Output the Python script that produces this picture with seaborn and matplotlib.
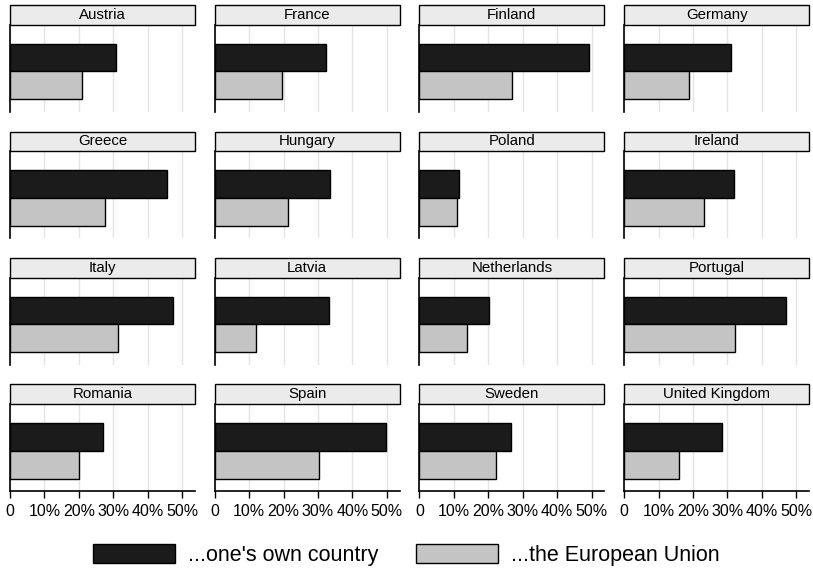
import pandas as pd
import matplotlib.pyplot as plt
import matplotlib.patches as mpatches
import seaborn as sns

# Data (percent)
countries = ['Austria', 'France', 'Finland', 'Germany',
             'Greece', 'Hungary', 'Poland', 'Ireland',
             'Italy', 'Latvia', 'Netherlands', 'Portugal',
             'Romania', 'Spain', 'Sweden', 'United Kingdom']
own_country = [30.8, 32.3, 49.4, 31.1,
               45.6, 33.4, 11.6, 32.0,
               47.4, 33.1, 20.3, 47.1,
               27.0, 49.7, 26.7, 28.3]
european_union = [20.9, 19.5, 27.0, 18.9,
                  27.6, 21.2, 10.8, 23.3,
                  31.4, 11.9, 13.7, 32.3,
                  20.0, 30.2, 22.1, 16.0]
targets = ["...one's own country", "...the European Union"]
tick_values = [0, 10, 20, 30, 40, 50]
tick_labels = ['0', '10%', '20%', '30%', '40%', '50%']

rows = []
for c, a, b in zip(countries, own_country, european_union):
    rows.append({'country': c, 'target': targets[0], 'pct': a})
    rows.append({'country': c, 'target': targets[1], 'pct': b})
df = pd.DataFrame(rows)

sns.set_style('white')
plt.rcParams['font.family'] = ['Liberation Sans', 'DejaVu Sans']
plt.rcParams['text.color'] = 'black'
plt.rcParams['xtick.color'] = 'black'

palette = {targets[0]: '#1b1b1b', targets[1]: '#c4c4c4'}

fig, axes = plt.subplots(4, 4, figsize=(8.13, 5.7), dpi=100)
fig.subplots_adjust(left=10/813, right=809/813, top=1-25/570, bottom=1-491/570,
                    wspace=20/185, hspace=40/87)

for i, (ax, country) in enumerate(zip(axes.flat, countries)):
    sub = df[df['country'] == country]
    sns.barplot(data=sub, x='pct', y='target', hue='target', palette=palette,
                order=targets, hue_order=targets, width=1.0, edgecolor='black',
                linewidth=1.0, legend=False, ax=ax, zorder=3)
    ax.set_xlim(0, 53.7)
    ax.set_ylim(2.0 - 0.5 + 0.45, -0.5 - 0.68)
    ax.set_xticks(tick_values)
    ax.grid(axis='x', color='#e4e4e4', linewidth=1.0, zorder=0)
    ax.set_yticks([])
    ax.set_xlabel('')
    ax.set_ylabel('')
    for s in ['top', 'right']:
        ax.spines[s].set_visible(False)
    ax.spines['left'].set_color('black')
    ax.spines['left'].set_linewidth(1.2)
    if i >= 12:
        ax.spines['bottom'].set_color('black')
        ax.spines['bottom'].set_linewidth(1.2)
        ax.set_xticklabels(tick_labels, fontsize=11.5, color='black')
        ax.tick_params(axis='x', bottom=True, length=5, width=1, color='black', pad=4)
    else:
        ax.spines['bottom'].set_visible(False)
        ax.tick_params(axis='x', bottom=False, labelbottom=False)
    # header strip
    ax.add_patch(mpatches.Rectangle((0, 1), 1, 0.23, transform=ax.transAxes,
                                    facecolor='#ebebeb', edgecolor='black',
                                    linewidth=1.0, clip_on=False, zorder=5))
    ax.text(0.5, 1.115, country, transform=ax.transAxes, ha='center', va='center',
            fontsize=10.8, color='black', zorder=6)

handles = [mpatches.Patch(facecolor=palette[t], edgecolor='black', linewidth=1.0, label=t)
           for t in targets]
fig.legend(handles=handles, loc='center', bbox_to_anchor=(0.5, 1-555/570), ncol=2,
           frameon=False, fontsize=15.5, handlelength=3.8, handleheight=1.0,
           handletextpad=0.6, columnspacing=1.75)

fig.savefig('out.png', dpi=100)
